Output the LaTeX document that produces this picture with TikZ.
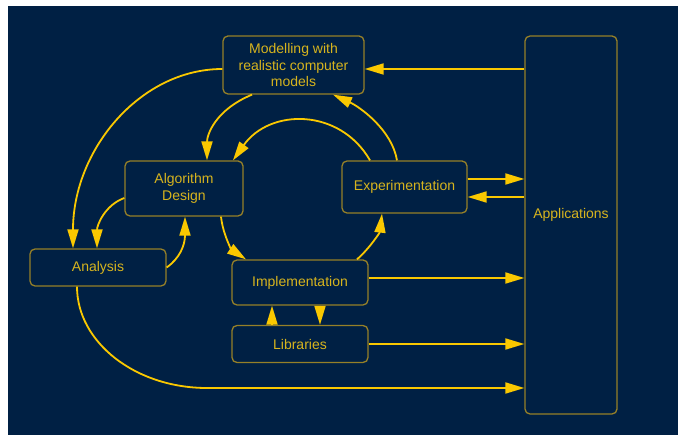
\documentclass[tikz,border=0pt]{standalone}
\usepackage{fontspec}
\setmainfont{Liberation Sans}
\usetikzlibrary{arrows.meta,calc}
\definecolor{bgnavy}{RGB}{0,32,68}
\definecolor{lineyel}{RGB}{250,200,0}
\definecolor{boxbord}{RGB}{150,128,40}
\definecolor{txtgold}{RGB}{215,180,30}
\begin{document}
\begin{tikzpicture}[x=1pt,y=-1pt,
  box/.style={draw=boxbord,line width=1.3pt,rounded corners=5pt,inner sep=0pt,
    text=txtgold,font=\fontsize{14}{16.5}\selectfont,align=center},
  lbl/.style={text=txtgold,font=\fontsize{14}{16.5}\selectfont,inner sep=0pt},
  arr/.style={draw=lineyel,line width=1.8pt,-{Triangle[length=19pt,width=11pt]}}]
\useasboundingbox (0,0) rectangle (678,435);
\fill[bgnavy] (8,6) rectangle (678,435);
% nodes
\node[box,minimum width=92pt,minimum height=378pt] (appl) at (571,225) {};
\node[lbl] (appltext) at (571,215) {Applications};
\node[box,minimum width=141pt,minimum height=58pt] (mod) at (293.5,65) {Modelling with\\realistic computer\\models};
\node[box,minimum width=118pt,minimum height=55pt] (alg) at (184,188.5) {Algorithm\\Design};
\node[box,minimum width=136pt,minimum height=37pt] (ana) at (98,267.5) {Analysis};
\node[box,minimum width=125pt,minimum height=52pt] (exp) at (404.5,187) {Experimentation};
\node[box,minimum width=136pt,minimum height=45pt] (imp) at (300,282.5) {Implementation};
\node[box,minimum width=136pt,minimum height=37pt] (lib) at (300,344) {Libraries};
% connectors
\draw[arr] ($(appl.west)+(0,-156)$) -- ($(mod.east)+(0,4)$);
\draw[arr] ($(mod.west)+(0,4)$) .. controls (140,69) and (73,150) .. ($(ana.north)+(-25,0)$);
\draw[arr] ($(mod.south)+(-41.5,0)$) .. controls (215,110) and (207,135) .. ($(alg.north)+(23,0)$);
\draw[arr] ($(exp.north)+(-34.5,0)$) .. controls (340,108) and (270,108) .. ($(alg.north)+(49,0)$);
\draw[arr] ($(exp.north)+(-7.5,0)$) .. controls (392,130) and (360,107) .. ($(mod.south)+(39.5,0)$);
\draw[arr] ($(alg.south)+(37,0)$) .. controls (223,235) and (232,250) .. ($(imp.north)+(-54,0)$);
\draw[arr] ($(imp.north)+(57,0)$) .. controls (370,248) and (380,232) .. ($(exp.south)+(-22.5,0)$);
\draw[arr] (ana.east) .. controls (180,258) and (185,245) .. ($(alg.south)+(1,0)$);
\draw[arr] ($(alg.west)+(0,9.5)$) .. controls (105,205) and (97,225) .. ($(ana.north)+(-1,0)$);
\draw[arr] ($(lib.north)+(-28,0)$) -- ($(imp.south)+(-28,0)$);
\draw[arr] ($(imp.south)+(20,0)$) -- ($(lib.north)+(20,0)$);
\draw[arr] ($(exp.east)+(0,-8)$) -- ($(appl.west)+(0,-46)$);
\draw[arr] ($(appl.west)+(0,-28)$) -- ($(exp.east)+(0,10)$);
\draw[arr] ($(imp.east)+(0,-4.5)$) -- ($(appl.west)+(0,53)$);
\draw[arr] (lib.east) -- ($(appl.west)+(0,119)$);
\draw[arr] ($(ana.south)+(-21,0)$) .. controls (77,342) and (135,388) .. (207,388) -- ($(appl.west)+(0,163)$);
\end{tikzpicture}
\end{document}
